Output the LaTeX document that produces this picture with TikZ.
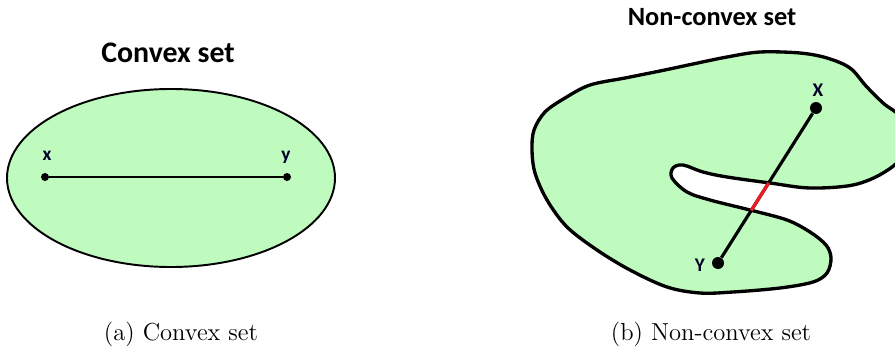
\documentclass[tikz,border=0pt]{standalone}
\usepackage{fontspec}
\newfontfamily\calibri{Carlito}
\usepackage{xcolor}
\definecolor{vertpale}{HTML}{BFFABF}
\definecolor{rougevif}{HTML}{ED1C24}
\usepackage{tikz}
\usetikzlibrary{calc,intersections}

\begin{document}
\begin{tikzpicture}[x=0.02cm,y=-0.02cm,
  titre/.style={font=\calibri\bfseries\fontsize{17}{20}\selectfont},
  lettre/.style={font=\calibri\bfseries\fontsize{11}{13}\selectfont,text=black!85!blue},
  legende/.style={font=\fontsize{14}{17}\selectfont},
  point/.style={circle,fill=black,inner sep=0pt,minimum size=0.16cm}]
\clip (0,0) rectangle (895,352);
% ensemble convexe
\draw[line width=1.1pt,fill=vertpale] (171,178) ellipse [x radius=164, y radius=89];
\node[titre] (titreA) at (168,53) {Convex set};
\node[point] (x) at (45,177) {};
\node[point] (y) at (287,177) {};
\node[lettre] (lx) at (47,156) {x};
\node[lettre] (ly) at (286,157) {y};
\draw[line width=1.5pt] (x) -- (y);
% ensemble non convexe
\draw[name path=contour,line width=1.9pt,fill=vertpale] plot[smooth cycle,tension=0.55] coordinates {
  (534,130) (545,112) (565,98) (590,85) (625,78) (660,71) (693,64) (727,57)
  (760,52) (800,53) (827,58) (850,68) (866,86) (883,103) (902,120) (902,155)
  (883,173) (853,185) (810,188) (770,183) (727,177) (703,172) (683,165)
  (673,168) (672,178) (687,192) (710,200) (750,210) (787,220) (810,232)
  (826,245) (831,258) (827,273) (813,282) (780,288) (733,292) (700,293)
  (667,287) (630,270) (597,250) (567,227) (547,200) (535,173) (532,150)};
\node[titre,font=\calibri\bfseries\fontsize{15}{18}\selectfont] (titreB) at (712,17) {Non-convex set};
\node[point,minimum size=0.24cm] (X) at (816,108) {};
\node[point,minimum size=0.24cm] (Y) at (718,263) {};
\node[lettre] (lX) at (818,90) {X};
\node[lettre] (lY) at (700,265) {Y};
\draw[line width=1.8pt] (Y) -- (X);
% partie du segment hors de l'ensemble
\path[name path=segment] (Y) -- (X);
\path[name intersections={of=contour and segment,sort by=segment,by={bas,haut}}];
\draw[rougevif,line width=1.8pt] (bas) -- (haut);
% legendes
\node[legende] (legA) at (181,334) {(a) Convex set};
\node[legende] (legB) at (711,334) {(b) Non-convex set};
\end{tikzpicture}
\end{document}
